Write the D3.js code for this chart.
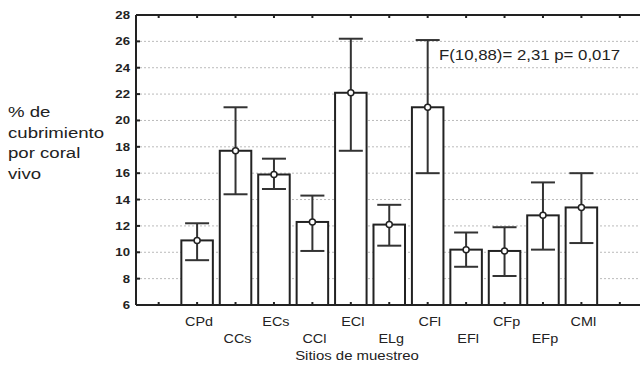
<!DOCTYPE html>
<html>
<head>
<meta charset="utf-8">
<script src="https://cdn.jsdelivr.net/npm/d3@7"></script>
<style>
  body { margin: 0; background: #fff; }
  text { font-family: "Liberation Sans", Arial, sans-serif; fill: #222; }
</style>
</head>
<body>
<div id="container"></div>
<script>
/* CONSTANTS AND GLOBALS */
const width = 640,
  height = 368,
  margin = { top: 15, bottom: 63, left: 136, right: -2.5 }

// DATA
const sites = ["CPd", "CCs", "ECs", "CCl", "ECl", "ELg", "CFl", "EFl", "CFp", "EFp", "CMl"];
const means = [10.9, 17.7, 15.9, 12.3, 22.1, 12.1, 21.0, 10.2, 10.1, 12.8, 13.4];
const upper = [12.2, 21.0, 17.1, 14.3, 26.2, 13.6, 26.1, 11.5, 11.9, 15.3, 16.0];
const lower = [9.4, 14.4, 14.8, 10.1, 17.7, 10.5, 16.0, 8.9, 8.2, 10.2, 10.7];
const yTicks = [6, 8, 10, 12, 14, 16, 18, 20, 22, 24, 26, 28];
const yTitle = ["% de", "cubrimiento", "por coral", "vivo"];
const xTitle = "Sitios de muestreo";
const statText = "F(10,88)= 2,31 p= 0,017";

const data = sites.map((s, i) => ({ site: s, mean: means[i], hi: upper[i], lo: lower[i] }));
// one empty slot at each end of the axis
const slots = ["_a"].concat(sites, ["_b"]);

// SCALES
const xScale = d3.scaleBand()
  .domain(slots)
  .range([margin.left, width - margin.right])
  .padding(0.18)

const yScale = d3.scaleLinear()
  .domain([6, 28])
  .range([height - margin.bottom, margin.top])

const cx = d => xScale(d) + xScale.bandwidth() / 2
const stretch = 1.2

// CREATE SVG ELEMENT
const svg = d3.select("#container")
  .append("svg")
  .attr("width", width)
  .attr("height", height)

// GRID
svg.append("g")
  .selectAll("line")
  .data(yTicks.filter(t => t > 6 && t < 28))
  .join("line")
  .attr("x1", margin.left)
  .attr("x2", width)
  .attr("y1", d => yScale(d))
  .attr("y2", d => yScale(d))
  .attr("stroke", "#bbb")
  .attr("stroke-width", 1)
  .attr("stroke-dasharray", "2,2")

// BARS
svg.append("g")
  .selectAll("rect")
  .data(data)
  .join("rect")
  .attr("x", d => xScale(d.site))
  .attr("width", xScale.bandwidth())
  .attr("y", d => yScale(d.mean))
  .attr("height", d => yScale(6) - yScale(d.mean))
  .attr("fill", "#fff")
  .attr("stroke", "#222")
  .attr("stroke-width", 2)

// ERROR BARS
const err = svg.append("g")
  .attr("stroke", "#333")
  .attr("stroke-width", 2)

err.selectAll(".stem")
  .data(data)
  .join("line")
  .attr("class", "stem")
  .attr("x1", d => cx(d.site))
  .attr("x2", d => cx(d.site))
  .attr("y1", d => yScale(d.hi))
  .attr("y2", d => yScale(d.lo))

err.selectAll(".cap")
  .data(data.flatMap(d => [{ site: d.site, v: d.hi }, { site: d.site, v: d.lo }]))
  .join("line")
  .attr("class", "cap")
  .attr("x1", d => cx(d.site) - 12)
  .attr("x2", d => cx(d.site) + 12)
  .attr("y1", d => yScale(d.v))
  .attr("y2", d => yScale(d.v))

svg.append("g")
  .selectAll("circle")
  .data(data)
  .join("circle")
  .attr("cx", d => cx(d.site))
  .attr("cy", d => yScale(d.mean))
  .attr("r", 3)
  .attr("fill", "#fff")
  .attr("stroke", "#222")
  .attr("stroke-width", 1.5)

// FRAME AND AXES
const frame = svg.append("g")
  .attr("stroke", "#222")
  .attr("stroke-width", 2)

frame.append("line")
  .attr("x1", margin.left).attr("x2", width)
  .attr("y1", yScale(28)).attr("y2", yScale(28))
frame.append("line")
  .attr("x1", margin.left).attr("x2", width)
  .attr("y1", yScale(6)).attr("y2", yScale(6))
frame.append("line")
  .attr("x1", margin.left).attr("x2", margin.left)
  .attr("y1", yScale(28)).attr("y2", yScale(6))

// inward ticks
svg.append("g")
  .selectAll("line")
  .data(yTicks)
  .join("line")
  .attr("x1", margin.left)
  .attr("x2", margin.left + 4)
  .attr("y1", d => yScale(d))
  .attr("y2", d => yScale(d))
  .attr("stroke", "#222")
  .attr("stroke-width", 2)

svg.append("g")
  .selectAll("line")
  .data(slots.flatMap(s => [{ s, y: yScale(28), dir: 1 }, { s, y: yScale(6), dir: -1 }]))
  .join("line")
  .attr("x1", d => cx(d.s))
  .attr("x2", d => cx(d.s))
  .attr("y1", d => d.y)
  .attr("y2", d => d.y + d.dir * 3)
  .attr("stroke", "#222")
  .attr("stroke-width", 2)

// TICK LABELS
svg.append("g")
  .selectAll("text")
  .data(yTicks)
  .join("text")
  .attr("transform", d => `translate(130, ${yScale(d) + 4}) scale(${stretch},1)`)
  .attr("text-anchor", "end")
  .attr("font-size", 11)
  .attr("font-weight", "bold")
  .text(d => d)

svg.append("g")
  .selectAll("text")
  .data(data)
  .join("text")
  .attr("transform", (d, i) => `translate(${cx(d.site) + 2}, ${i % 2 === 0 ? 326 : 343}) scale(${stretch},1)`)
  .attr("text-anchor", "middle")
  .attr("font-size", 12)
  .text(d => d.site)

// TITLES
svg.append("text")
  .attr("transform", `translate(357, 360) scale(1.15,1)`)
  .attr("text-anchor", "middle")
  .attr("font-size", 13)
  .text(xTitle)

svg.append("g")
  .selectAll("text")
  .data(yTitle)
  .join("text")
  .attr("transform", (d, i) => `translate(8, ${117 + i * 20.7}) scale(${stretch},1)`)
  .attr("font-size", 15.5)
  .text(d => d)

svg.append("text")
  .attr("transform", `translate(439, 60) scale(${stretch},1)`)
  .attr("font-size", 14)
  .text(statText)
</script>
</body>
</html>
